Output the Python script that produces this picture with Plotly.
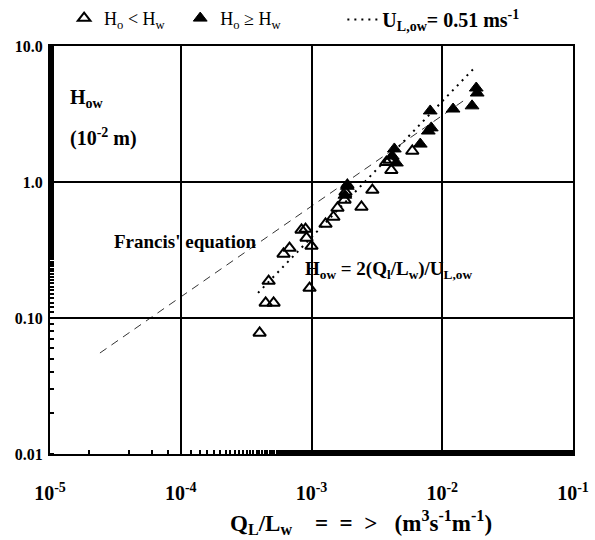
import plotly.graph_objects as go

# Open triangles: H_o < H_w
open_q = [4.01e-4, 4.46e-4, 5.13e-4, 4.70e-4, 9.66e-4, 6.11e-4, 6.79e-4, 8.39e-4, 9.0e-4,
          9.16e-4, 1.0e-3, 1.28e-3, 1.47e-3, 1.58e-3, 1.79e-3, 1.82e-3, 1.88e-3, 2.41e-3,
          2.92e-3, 3.74e-3, 4.08e-3, 3.94e-3, 5.90e-3]
open_h = [0.0776, 0.129, 0.129, 0.187, 0.166, 0.296, 0.327, 0.444, 0.451,
          0.388, 0.338, 0.491, 0.553, 0.644, 0.738, 0.844, 0.95, 0.655,
          0.873, 1.40, 1.22, 1.45, 1.69]

# Filled triangles: H_o >= H_w
fill_q = [1.88e-3, 1.80e-3, 4.30e-3, 4.46e-3, 4.15e-3, 6.79e-3, 7.82e-3, 8.24e-3, 8.09e-3,
          1.21e-2, 1.69e-2, 1.82e-2, 1.85e-2]
fill_h = [0.93, 0.80, 1.75, 1.38, 1.55, 1.90, 2.37, 2.50, 3.33,
          3.44, 3.63, 4.91, 4.51]

# Francis' equation line (end points)
francis_q = [2.41e-5, 1.5e-2]
francis_h = [0.0553, 4.04]

# U_L,ow = 0.51 m/s line (end points)
ulow_q = [3.9e-4, 1.82e-2]
ulow_h = [0.153, 7.13]

x_tickvals = [1e-5, 1e-4, 1e-3, 1e-2, 1e-1]
x_ticktext = ["10<sup>-5</sup>", "10<sup>-4</sup>", "10<sup>-3</sup>", "10<sup>-2</sup>", "10<sup>-1</sup>"]
y_tickvals = [0.01, 0.1, 1.0, 10.0]
y_ticktext = ["0.01", "0.10", "1.0", "10.0"]

SERIF = "Liberation Serif"

fig = go.Figure()
fig.add_trace(go.Scatter(
    x=francis_q, y=francis_h, mode="lines", showlegend=False,
    line=dict(color="black", width=0.8, dash="8px,6px"), hoverinfo="skip"))
fig.add_trace(go.Scatter(
    x=open_q, y=open_h, mode="markers", name="H<sub>o</sub> &lt; H<sub>w</sub>",
    legend="legend",
    marker=dict(symbol="triangle-up-open", size=11, color="black", line=dict(width=2, color="black"))))
fig.add_trace(go.Scatter(
    x=fill_q, y=fill_h, mode="markers", name="H<sub>o</sub> ≥ H<sub>w</sub>",
    legend="legend2",
    marker=dict(symbol="triangle-up", size=12, color="black", line=dict(width=1, color="black"))))
fig.add_trace(go.Scatter(
    x=ulow_q, y=ulow_h, mode="lines", name="<b>U<sub>L,ow</sub>= 0.51 ms<sup>-1</sup></b>",
    legend="legend3",
    line=dict(color="black", width=2, dash="2px,5px")))

axis_common = dict(
    type="log", showline=True, linecolor="black", linewidth=2, mirror=True,
    showgrid=True, gridcolor="black", gridwidth=1.5, zeroline=False,
    ticks="", tickcolor="black",
)

fig.update_xaxes(
    **axis_common, range=[-5, -1], tickvals=x_tickvals, ticktext=x_ticktext,
    tickfont=dict(family=SERIF, size=20, color="black", weight="bold"),
    ticklabelstandoff=20,
    minor=dict(ticks="inside", ticklen=4, tickcolor="black", tickwidth=1.5, showgrid=False),
)
fig.update_yaxes(
    **axis_common, range=[-2, 1], tickvals=y_tickvals, ticktext=y_ticktext,
    tickfont=dict(family=SERIF, size=16, color="black", weight="bold"),
    ticklabelstandoff=2,
    minor=dict(ticks="inside", ticklen=4, tickcolor="black", tickwidth=1.5, showgrid=False),
)

leg_common = dict(orientation="h", y=1.113, xanchor="left", yanchor="top",
                  bgcolor="rgba(0,0,0,0)")

fig.update_layout(
    width=595, height=540,
    margin=dict(l=50, r=22, t=46, b=86, autoexpand=False),
    plot_bgcolor="white", paper_bgcolor="white",
    font=dict(family=SERIF, color="black", size=16),
    legend=dict(**leg_common, x=0.027, font=dict(family=SERIF, size=18, color="black")),
    legend2=dict(**leg_common, x=0.249, font=dict(family=SERIF, size=18, color="black")),
    legend3=dict(**leg_common, x=0.559, font=dict(family=SERIF, size=20, color="black")),
    annotations=[
        dict(text="<b>H<sub>ow</sub></b>", x=0.034, y=0.872, xref="paper", yref="paper",
             xanchor="left", yanchor="middle", showarrow=False, font=dict(size=20)),
        dict(text="<b>(10<sup>-2</sup> m)</b>", x=0.034, y=0.775, xref="paper", yref="paper",
             xanchor="left", yanchor="middle", showarrow=False, font=dict(size=20)),
        dict(text="<b>Francis' equation</b>", x=0.258, y=0.52, xref="paper", yref="paper",
             xanchor="center", yanchor="middle", showarrow=False, font=dict(size=19)),
        dict(text="<b>H<sub>ow</sub> = 2(Q<sub>l</sub>/L<sub>w</sub>)/U<sub>L,ow</sub></b>",
             x=0.484, y=0.451, xref="paper", yref="paper",
             xanchor="left", yanchor="middle", showarrow=False, font=dict(size=19)),
        dict(text="<b>Q<sub>L</sub>/L<sub>w</sub>&nbsp;&nbsp;&nbsp;&nbsp;=&nbsp;&nbsp;=&nbsp;&nbsp;&gt;&nbsp;&nbsp;&nbsp;(m<sup>3</sup>s<sup>-1</sup>m<sup>-1</sup>)</b>",
             x=0.34, y=-0.167, xref="paper", yref="paper",
             xanchor="left", yanchor="middle", showarrow=False, font=dict(size=23)),
    ],
)

fig.write_html("out.html")
